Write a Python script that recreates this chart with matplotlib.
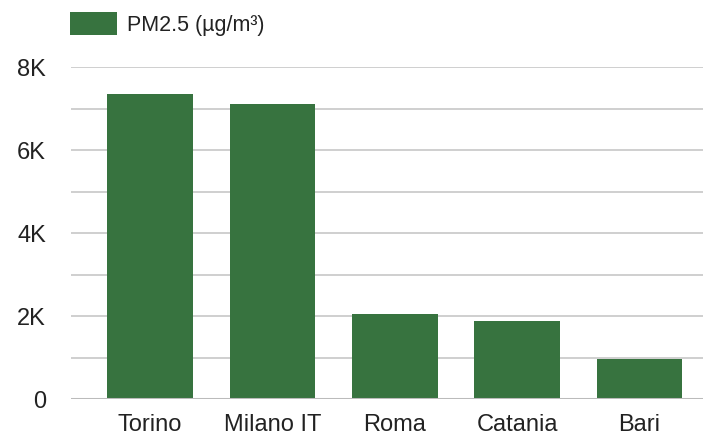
import numpy as np
import matplotlib.pyplot as plt

# Datos
ciudades = ['Torino', 'Milano IT', 'Roma', 'Catania', 'Bari']
pm25 = [7350, 7110, 2050, 1880, 960]
etiqueta = 'PM2.5 (µg/m³)'
ticks_y = [0, 2000, 4000, 6000, 8000]
etiquetas_y = ['0', '2K', '4K', '6K', '8K']

plt.rcParams['font.family'] = ['Liberation Sans', 'DejaVu Sans']

fig = plt.figure(figsize=(7.03, 4.35), dpi=100)
ax = fig.add_axes([71 / 703, 1 - 400 / 435, 632 / 703, 332 / 435])

x = np.arange(len(ciudades))
ax.bar(x, pm25, width=0.70, color='#37733f', label=etiqueta, zorder=3)

ax.set_xlim(-0.646, 4.52)
ax.set_ylim(0, 8000)

# Rejilla horizontal cada 1K
for v in range(1000, 8001, 1000):
    ax.axhline(v, color='#cccccc', lw=1.3, zorder=1)
ax.axhline(0, color='#bbbbbb', lw=2.2, zorder=4)

ax.set_yticks(ticks_y)
ax.set_yticklabels(etiquetas_y)
ax.set_xticks(x)
ax.set_xticklabels(ciudades)
ax.tick_params(axis='y', length=0, pad=18, labelsize=17, labelcolor='#222222')
ax.tick_params(axis='x', length=0, pad=10, labelsize=17, labelcolor='#222222')

for s in ax.spines.values():
    s.set_visible(False)

fig.legend(loc='center left', bbox_to_anchor=(70 / 703, 1 - 24.5 / 435), frameon=False,
           fontsize=15.5, handlelength=2.2, handleheight=1.3, handletextpad=0.45,
           borderaxespad=0, borderpad=0, labelcolor='#222222')

fig.savefig('out.png', dpi=100)
